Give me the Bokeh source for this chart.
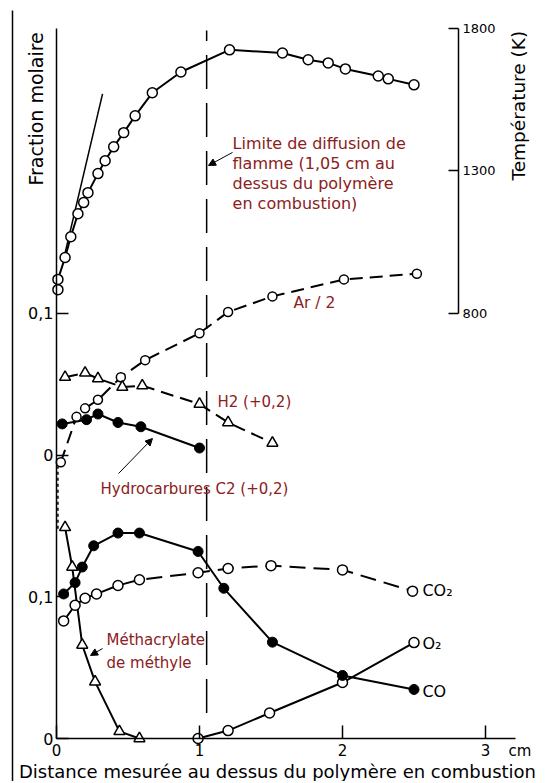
import math
from bokeh.plotting import figure
from bokeh.models import (Range1d, LinearAxis, FixedTicker, ColumnDataSource,
                          Arrow, NormalHead)
from bokeh.core.properties import value
from bokeh.embed import file_html
from bokeh.resources import INLINE

# ---------------- data ----------------
# Temperature profile (K) vs distance (cm)
temp_x = [0.01, 0.01, 0.06, 0.10, 0.15, 0.19, 0.22, 0.29, 0.34, 0.40, 0.47,
          0.55, 0.67, 0.87, 1.21, 1.58, 1.76, 1.90, 2.02, 2.25, 2.32, 2.50]
temp_k = [882, 918, 995, 1068, 1149, 1188, 1223, 1290, 1335, 1384, 1434,
          1493, 1574, 1647, 1725, 1714, 1690, 1679, 1658, 1633, 1623, 1602]
# tangent at the origin of the temperature profile
tangent_x = [0.056, 0.322]
tangent_k = [1002, 1570]

# middle block (values on the middle scale, shown with +0,2 offset)
ar_x = [0.03, 0.14, 0.20, 0.29, 0.45, 0.62, 1.00, 1.20, 1.51, 2.01, 2.52]
ar_y = [-0.005, 0.027, 0.033, 0.039, 0.055, 0.067, 0.086, 0.101, 0.112, 0.124, 0.128]
h2_x = [0.06, 0.20, 0.29, 0.46, 0.60, 1.00, 1.20, 1.51]
h2_y = [0.055, 0.058, 0.054, 0.048, 0.049, 0.036, 0.023, 0.0085]
c2_x = [0.04, 0.21, 0.29, 0.43, 0.59, 1.00]
c2_y = [0.022, 0.025, 0.029, 0.023, 0.020, 0.005]

# bottom block (mole fractions)
co_x = [0.05, 0.13, 0.18, 0.26, 0.43, 0.58, 0.99, 1.17, 1.51, 2.00, 2.50]
co_y = [0.102, 0.110, 0.121, 0.136, 0.145, 0.145, 0.132, 0.106, 0.068, 0.0445, 0.0346]
co2_x = [0.05, 0.13, 0.20, 0.28, 0.43, 0.58, 0.99, 1.20, 1.50, 2.00, 2.49]
co2_y = [0.083, 0.094, 0.099, 0.102, 0.108, 0.112, 0.117, 0.120, 0.122, 0.119, 0.104]
o2_x = [0.99, 1.20, 1.49, 2.00, 2.50]
o2_y = [0.0, 0.0056, 0.018, 0.0395, 0.0677]
mma_x = [0.06, 0.11, 0.18, 0.27, 0.44, 0.58]
mma_y = [0.149, 0.121, 0.066, 0.040, 0.005, 0.0]

# axes ticks / labels
x_ticks = [0, 1, 2, 3]
left_ticks = [0.0, 0.1, 0.2, 0.3]
left_labels = ["0", "0,1", "0", "0,1"]
temp_ticks = [800, 1300, 1800]

# flame diffusion limit
limit_x = 1.05

# ---------------- layout ----------------
W, H = 548, 781
PX_CM = 143.0          # px per cm
PX_UNIT = 1417.0       # px per mole-fraction unit
X0_PX = 56             # x = 0 at this canvas px
Y0_PX = 738            # y = 0 at this canvas px

xs = -X0_PX / PX_CM
xe = (W - X0_PX) / PX_CM
ys = -(H - Y0_PX) / PX_UNIT
ye = Y0_PX / PX_UNIT

MID_OFF = 0.2
T_AT = 0.30028          # main-scale position of 800 K
K_PER_UNIT = 4980.6
ts = 800 + (ys - T_AT) * K_PER_UNIT
te = 800 + (ye - T_AT) * K_PER_UNIT

RED = "#8b2020"
FONT = value("DejaVu Sans")

p = figure(width=W, height=H, output_backend="svg", toolbar_location=None,
           x_range=Range1d(xs, xe), y_range=Range1d(ys, ye),
           x_axis_location=None, y_axis_location=None,
           min_border_left=0, min_border_right=0,
           min_border_top=0, min_border_bottom=0)
p.extra_y_ranges = {"mid": Range1d(ys - MID_OFF, ye - MID_OFF),
                    "temp": Range1d(ts, te)}
p.grid.visible = False
p.outline_line_color = None
p.background_fill_color = "white"
p.border_fill_color = "white"

axis_style = dict(major_tick_out=0, minor_tick_line_color=None,
                  axis_line_width=1.5, major_tick_line_width=1.5,
                  major_label_text_font="DejaVu Sans",
                  major_label_text_color="black")

xa = LinearAxis(fixed_location=0, ticker=FixedTicker(ticks=x_ticks),
                bounds=(0, 3.21), major_tick_in=13, major_label_standoff=5,
                major_label_text_font_size="15px", **axis_style)
p.add_layout(xa, "below")
ya = LinearAxis(fixed_location=0, ticker=FixedTicker(ticks=left_ticks),
                major_label_overrides={t: l for t, l in zip(left_ticks, left_labels)},
                bounds=(0, 0.501), major_tick_in=12, major_label_standoff=3,
                major_label_text_font_size="16px", **axis_style)
p.add_layout(ya, "left")
ta = LinearAxis(y_range_name="temp", fixed_location=2.811,
                ticker=FixedTicker(ticks=temp_ticks), bounds=(800, 1800),
                major_tick_in=10, major_label_standoff=4,
                major_label_text_font_size="13px", **axis_style)
p.add_layout(ta, "right")

# ---------------- reference lines ----------------
# border line at the left edge of the figure
p.segment(x0=[(12 - X0_PX) / PX_CM], y0=[(Y0_PX - 10) / PX_UNIT],
          x1=[(12 - X0_PX) / PX_CM], y1=[ys], line_color="black", line_width=1.5)
p.segment(x0=[limit_x], y0=[0.018], x1=[limit_x], y1=[0.4996],
          line_color="black", line_width=1.5, line_dash="34 14")
p.segment(x0=[0.01], y0=[0.148], x1=[0.01], y1=[0.192],
          line_color="black", line_width=1.5, line_dash="3 3")
p.line(tangent_x, tangent_k, y_range_name="temp", line_color="black", line_width=1.5)

# ---------------- series ----------------
LW = 2
p.line(temp_x, temp_k, y_range_name="temp", line_color="black", line_width=LW)
p.scatter(temp_x, temp_k, y_range_name="temp", marker="circle", size=10,
          fill_color="white", line_color="black", line_width=1.5)
p.line(ar_x, ar_y, y_range_name="mid", line_color="black", line_width=LW, line_dash="13 7")
p.line(h2_x, h2_y, y_range_name="mid", line_color="black", line_width=LW, line_dash="13 7")
p.line(c2_x, c2_y, y_range_name="mid", line_color="black", line_width=LW)
p.scatter(ar_x, ar_y, y_range_name="mid", marker="circle", size=9,
          fill_color="white", line_color="black", line_width=1.5)
p.scatter(h2_x, h2_y, y_range_name="mid", marker="triangle", size=11,
          fill_color="white", line_color="black", line_width=1.5)
p.scatter(c2_x, c2_y, y_range_name="mid", marker="circle", size=10,
          fill_color="black", line_color="black")
p.line(co2_x, co2_y, line_color="black", line_width=LW, line_dash="16 8")
p.line(co_x, co_y, line_color="black", line_width=LW)
p.line(o2_x, o2_y, line_color="black", line_width=LW)
p.line(mma_x, mma_y, line_color="black", line_width=LW)
p.scatter(co2_x, co2_y, marker="circle", size=10, fill_color="white",
          line_color="black", line_width=1.5)
p.scatter(o2_x, o2_y, marker="circle", size=10, fill_color="white",
          line_color="black", line_width=1.5)
p.scatter(mma_x, mma_y, marker="triangle", size=11, fill_color="white",
          line_color="black", line_width=1.5)
p.scatter(co_x, co_y, marker="circle", size=10, fill_color="black",
          line_color="black")

# ---------------- annotations ----------------
red_src = ColumnDataSource(dict(
    x=[1.231, 1.231, 1.231, 1.231, 1.657, 1.126, 0.308, 0.35, 0.35],
    y=[0.4199, 0.4058, 0.3917, 0.3776, 0.307, 0.2378, 0.1764, 0.0692, 0.0536],
    t=["Limite de diffusion de", "flamme (1,05 cm au", "dessus du polymère",
       "en combustion)", "Ar / 2", "H2 (+0,2)", "Hydrocarbures C2 (+0,2)",
       "Méthacrylate", "de méthyle"],
    s=["16px", "16px", "16px", "16px", "15.5px", "15px", "15px", "15px", "15px"],
))
p.text(x="x", y="y", text="t", source=red_src, text_font=FONT,
       text_font_size="s", text_color=RED, text_baseline="middle",
       text_align="left")

blk_src = ColumnDataSource(dict(
    x=[2.559, 2.559, 2.559],
    y=[0.1044, 0.067, 0.0332],
    t=["CO₂", "O₂", "CO"],
))
p.text(x="x", y="y", text="t", source=blk_src, text_font=FONT,
       text_font_size="16px", text_color="black", text_baseline="middle",
       text_align="left")

arrow_specs = [
    (1.231, 0.4136, 1.063, 0.4044),   # limit label -> dashed line
    (0.434, 0.187, 0.671, 0.2117),    # C2 label -> curve
    (0.322, 0.0635, 0.238, 0.0586),   # MMA label -> curve
]
for x0, y0, x1, y1 in arrow_specs:
    p.add_layout(Arrow(end=NormalHead(size=7, fill_color="black", line_color="black"),
                       x_start=x0, y_start=y0, x_end=x1, y_end=y1,
                       line_color="black", line_width=1))

# axis titles and units
p.text(x=[(35 - X0_PX) / PX_CM], y=[(Y0_PX - 185) / PX_UNIT], text=["Fraction molaire"],
       angle=math.pi / 2, text_font=FONT, text_font_size="19px", text_color="black",
       text_align="left", text_baseline="middle")
p.text(x=[(518 - X0_PX) / PX_CM], y=[(Y0_PX - 180) / PX_UNIT], text=["Température (K)"],
       angle=math.pi / 2, text_font=FONT, text_font_size="18.5px", text_color="black",
       text_align="left", text_baseline="middle")
p.text(x=[(508 - X0_PX) / PX_CM], y=[-(750 - Y0_PX) / PX_UNIT], text=["cm"],
       text_font=FONT, text_font_size="15px", text_color="black",
       text_align="left", text_baseline="middle")
p.text(x=[(277 - X0_PX) / PX_CM], y=[-(771 - Y0_PX) / PX_UNIT],
       text=["Distance mesurée au dessus du polymère en combustion"],
       text_font=FONT, text_font_size="18px", text_color="black",
       text_align="center", text_baseline="middle")

open("out.html", "w").write(file_html(p, INLINE))
